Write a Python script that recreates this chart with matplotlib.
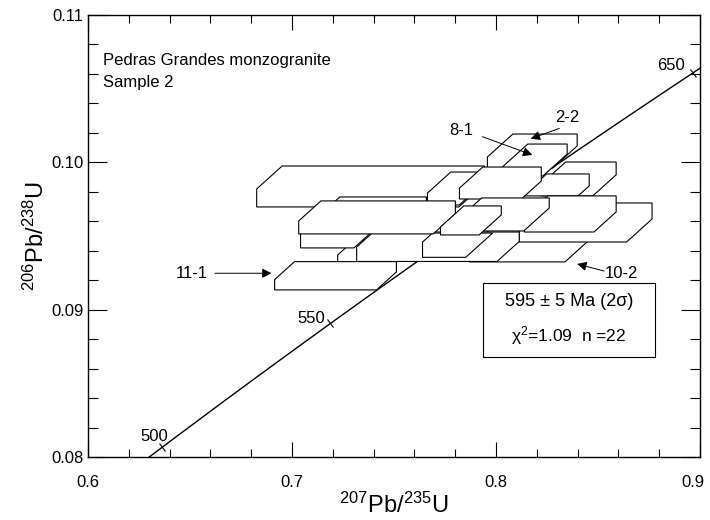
import numpy as np
import matplotlib
matplotlib.use("Agg")
import matplotlib.pyplot as plt
from matplotlib.patches import Polygon
from matplotlib.markers import MarkerStyle
from matplotlib.transforms import Affine2D, ScaledTranslation

plt.rcParams["font.family"] = ["Liberation Sans", "DejaVu Sans"]
plt.rcParams["mathtext.fontset"] = "custom"
plt.rcParams["mathtext.rm"] = "Liberation Sans"
plt.rcParams["mathtext.default"] = "regular"

# error boxes (2 sigma), drawn in this order, later ones on top
x_lo = [0.6827, 0.7126, 0.7664, 0.7958, 0.8031, 0.8222, 0.8139, 0.7821, 0.7870, 0.8114,
        0.8139, 0.7821, 0.7224, 0.7317, 0.7042, 0.7640, 0.7033, 0.7728, 0.6915]
x_hi = [0.7943, 0.7659, 0.7928, 0.8398, 0.8349, 0.8589, 0.8457, 0.8222, 0.8447, 0.8765,
        0.8589, 0.8261, 0.7488, 0.8114, 0.7380, 0.7982, 0.7801, 0.8026, 0.7512]
y_lo = [0.09697, 0.09541, 0.09710, 0.09962, 0.09907, 0.09772, 0.09772, 0.09751, 0.09324, 0.09459,
        0.09527, 0.09534, 0.09256, 0.09327, 0.09419, 0.09355, 0.09514, 0.09507, 0.09134]
y_hi = [0.09975, 0.09765, 0.09934, 0.10192, 0.10124, 0.10002, 0.09921, 0.09968, 0.09554, 0.09724,
        0.09772, 0.09758, 0.09473, 0.09527, 0.09643, 0.09520, 0.09738, 0.09704, 0.09326]
cut_ul = [0.00156, 0.00136, 0.00143, 0.00156, 0.00156, 0.00149, 0.00136, 0.00143, 0.00136, 0.00149,
          0.00143, 0.00136, 0.00102, 0.00102, 0.00095, 0.00061, 0.00136, 0.00143, 0.00122]
cut_lr = [0.00156, 0.00136, 0.00136, 0.00149, 0.00149, 0.00143, 0.00068, 0.00122, 0.00136, 0.00156,
          0.00136, 0.00156, 0.00102, 0.00136, 0.00095, 0.00163, 0.00136, 0.00136, 0.00122]
cut_slope = 0.125  # dy/dx of the slanted box corners

# concordia
lam238 = 1.55125e-10
lam235 = 9.8485e-10
age_ticks = [500, 550, 600, 650]
age_labels = ["500", "550", "650"]
age_label_x = [0.6323, 0.7095, 0.8858]
age_label_y = [0.08136, 0.08943, 0.10654]

fig = plt.figure(figsize=(7.1, 5.2), dpi=100)
ax = fig.add_axes([0.1239, 0.1212, 0.8620, 0.85])

t = np.linspace(470e6, 700e6, 300)
ax.plot(np.exp(lam235 * t) - 1, np.exp(lam238 * t) - 1, color="black", lw=1.0, zorder=1)
for a in age_ticks:
    ta = a * 1e6
    m = MarkerStyle("|", transform=Affine2D().rotate_deg(36))
    ax.plot(np.exp(lam235 * ta) - 1, np.exp(lam238 * ta) - 1, marker=m, ms=7,
            mew=0.8, color="black", zorder=1)
for lab, lx, ly in zip(age_labels, age_label_x, age_label_y):
    ax.text(lx, ly, lab, fontsize=12, ha="center", va="center")

for i in range(len(x_lo)):
    x0, x1, y0, y1 = x_lo[i], x_hi[i], y_lo[i], y_hi[i]
    cu, cl = cut_ul[i], cut_lr[i]
    verts = [(x0, y0), (x0, y1 - cu), (x0 + cu / cut_slope, y1), (x1, y1),
             (x1, y0 + cl), (x1 - cl / cut_slope, y0)]
    ax.add_patch(Polygon(verts, closed=True, facecolor="white", edgecolor="black",
                         lw=0.8, zorder=2 + i * 0.01))

arrow = dict(arrowstyle="-|>", color="black", lw=0.7, mutation_scale=14, shrinkA=0, shrinkB=0)
ax.annotate("", xy=(0.6900, 0.09247), xytext=(0.6622, 0.09247), arrowprops=arrow, zorder=5)
ax.text(0.6508, 0.09247, "11-1", fontsize=12, ha="center", va="center")
ax.annotate("", xy=(0.8398, 0.09310), xytext=(0.8530, 0.09262), arrowprops=arrow, zorder=8)
ax.text(0.8615, 0.09245, "10-2", fontsize=12, ha="center", va="center", zorder=8)
ax.annotate("", xy=(0.8178, 0.10050), xytext=(0.7933, 0.10174), arrowprops=arrow, zorder=5)
ax.text(0.7829, 0.10219, "8-1", fontsize=12, ha="center", va="center")
ax.annotate("", xy=(0.8170, 0.10160), xytext=(0.8310, 0.10230), arrowprops=arrow, zorder=5)
ax.text(0.8349, 0.10301, "2-2", fontsize=12, ha="center", va="center")

ax.text(0.0245, 0.898, "Pedras Grandes monzogranite", transform=ax.transAxes,
        fontsize=12, va="center")
ax.text(0.0245, 0.848, "Sample 2", transform=ax.transAxes, fontsize=12, va="center")

ax.add_patch(plt.Rectangle((0.646, 0.226), 0.281, 0.168, transform=ax.transAxes,
                           facecolor="white", edgecolor="black", lw=0.8, zorder=6))
ax.text(0.786, 0.351, "595 ± 5 Ma (2σ)", transform=ax.transAxes, fontsize=13,
        ha="center", va="center", zorder=7)
ax.text(0.786, 0.274, "χ$^2$=1.09  n =22", transform=ax.transAxes, fontsize=12.5,
        ha="center", va="center", zorder=7)

ax.set_xlim(0.6, 0.9)
ax.set_ylim(0.08, 0.11)
ax.set_xticks([0.6, 0.7, 0.8, 0.9])
ax.set_xticklabels(["0.6", "0.7", "0.8", "0.9"])
ax.set_yticks([0.08, 0.09, 0.10, 0.11])
ax.set_yticklabels(["0.08", "0.09", "0.10", "0.11"])
ax.set_xticks(np.arange(0.6, 0.9001, 0.02), minor=True)
ax.set_yticks(np.arange(0.08, 0.11001, 0.002), minor=True)
ax.tick_params(axis="both", which="both", direction="in", top=True, right=True,
               labelsize=12, width=0.8)
ax.tick_params(axis="x", which="major", length=10.5, pad=13)
ax.tick_params(axis="x", which="minor", length=5.8)
ax.tick_params(axis="y", which="major", length=14, pad=3)
ax.tick_params(axis="y", which="minor", length=7.5)
for s in ax.spines.values():
    s.set_linewidth(1.0)

# keep the last x tick label inside the figure
last = ax.get_xticklabels()[-1]
last.set_transform(last.get_transform() + ScaledTranslation(-5 / 72, 0, fig.dpi_scale_trans))

ax.set_xlabel(r"$^{207}$Pb/$^{235}$U", fontsize=17, labelpad=2)
ax.set_ylabel(r"$^{206}$Pb/$^{238}$U", fontsize=17, labelpad=2)

fig.savefig("out.png", dpi=100)
